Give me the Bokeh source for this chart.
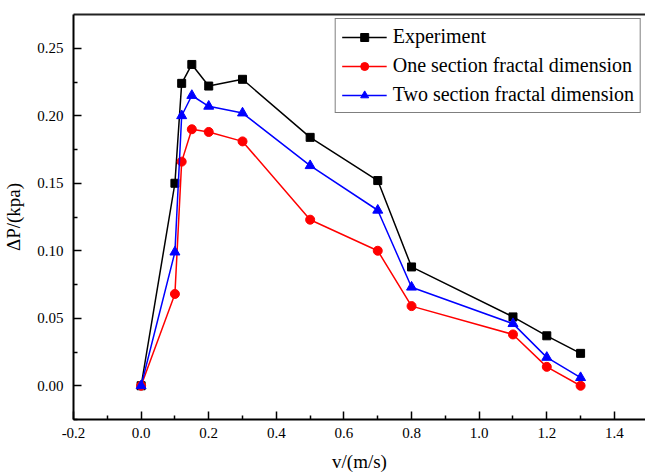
from bokeh.plotting import figure
from bokeh.models import Range1d, FixedTicker, LinearAxis, PrintfTickFormatter, Legend, LegendItem
from bokeh.embed import file_html
from bokeh.resources import INLINE

v = [0.0, 0.1, 0.12, 0.15, 0.2, 0.3, 0.5, 0.7, 0.8, 1.1, 1.2, 1.3]
experiment = [0.0, 0.150, 0.224, 0.238, 0.222, 0.227, 0.184, 0.152, 0.088, 0.051, 0.037, 0.024]
one_section = [0.0, 0.068, 0.166, 0.190, 0.188, 0.181, 0.123, 0.100, 0.059, 0.038, 0.014, 0.000]
two_section = [0.0, 0.099, 0.200, 0.215, 0.207, 0.202, 0.163, 0.130, 0.073, 0.046, 0.021, 0.006]

x_ticks = [-0.2, 0.0, 0.2, 0.4, 0.6, 0.8, 1.0, 1.2, 1.4]
x_minor = [-0.1, 0.1, 0.3, 0.5, 0.7, 0.9, 1.1, 1.3]
y_ticks = [0.00, 0.05, 0.10, 0.15, 0.20, 0.25]
y_minor = [-0.025, 0.025, 0.075, 0.125, 0.175, 0.225]

FONT = "Liberation Serif"

p = figure(width=645, height=474, output_backend="svg", toolbar_location=None,
           x_range=Range1d(-0.2, 1.492), y_range=Range1d(-0.025, 0.275),
           min_border_left=72, min_border_right=0, min_border_top=14, min_border_bottom=55)
p.outline_line_color = None
p.xgrid.visible = False
p.ygrid.visible = False
p.background_fill_color = "white"
p.border_fill_color = "white"

r1 = p.line(v, experiment, line_color="black", line_width=1.5)
s1 = p.scatter(v, experiment, marker="square", size=8, color="black")
r2 = p.line(v, one_section, line_color="#ff0000", line_width=1.5)
s2 = p.scatter(v, one_section, marker="circle", size=9, color="#ff0000")
r3 = p.line(v, two_section, line_color="#0000ff", line_width=1.5)
s3 = p.scatter(v, two_section, marker="triangle", size=10, color="#0000ff")

for ax in (p.xaxis[0], p.yaxis[0]):
    ax.axis_line_width = 2
    ax.axis_line_color = "black"
    ax.major_tick_in = 8
    ax.major_tick_out = 0
    ax.minor_tick_in = 4
    ax.minor_tick_out = 0
    ax.major_tick_line_width = 1.5
    ax.minor_tick_line_width = 1.5
    ax.major_label_text_font = FONT
    ax.major_label_text_font_size = "15px"
    ax.major_label_text_color = "black"
    ax.axis_label_text_font = FONT
    ax.axis_label_text_font_size = "19px"
    ax.axis_label_text_font_style = "normal"
    ax.axis_label_text_color = "black"

p.xaxis[0].ticker = FixedTicker(ticks=x_ticks, minor_ticks=x_minor)
p.xaxis[0].formatter = PrintfTickFormatter(format="%.1f")
p.xaxis[0].axis_label = "v/(m/s)"
p.xaxis[0].major_label_standoff = 8
p.xaxis[0].axis_label_standoff = 10

p.yaxis[0].ticker = FixedTicker(ticks=y_ticks, minor_ticks=y_minor)
p.yaxis[0].formatter = PrintfTickFormatter(format="%.2f")
p.yaxis[0].axis_label = "ΔP/(kpa)"
p.yaxis[0].major_label_standoff = 10
p.yaxis[0].axis_label_standoff = 10

top = LinearAxis(axis_line_width=2, axis_line_color="#222222",
                 major_tick_line_color=None, minor_tick_line_color=None,
                 major_label_text_font_size="0px", major_label_standoff=0,
                 ticker=FixedTicker(ticks=[]))
p.add_layout(top, "above")

legend = Legend(items=[
    LegendItem(label="Experiment", renderers=[r1, s1]),
    LegendItem(label="One section fractal dimension", renderers=[r2, s2]),
    LegendItem(label="Two section fractal dimension", renderers=[r3, s3]),
], location="top_right")
legend.label_text_font = FONT
legend.label_text_font_size = "20px"
legend.label_text_color = "black"
legend.glyph_width = 45
legend.glyph_height = 20
legend.label_height = 20
legend.label_standoff = 6
legend.spacing = 6
legend.padding = 6
legend.margin = 4
legend.border_line_color = "black"
legend.border_line_width = 1
legend.background_fill_alpha = 1
p.add_layout(legend)

open("out.html", "w").write(file_html(p, INLINE))
